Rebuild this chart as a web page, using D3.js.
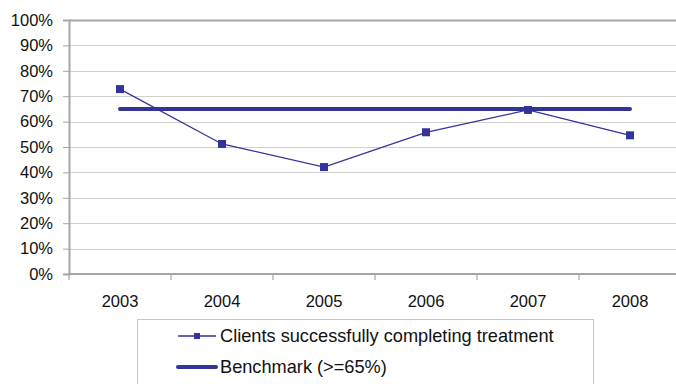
<!DOCTYPE html>
<html>
<head>
<meta charset="utf-8">
<script src="https://cdn.jsdelivr.net/npm/d3@7/dist/d3.min.js"></script>
<style>
  html, body { margin: 0; padding: 0; background: #fff; }
  svg { display: block; font-family: "Liberation Sans", Arial, sans-serif; }
</style>
</head>
<body>
<svg id="chart" width="676" height="384"></svg>
<script>
// Treatment completion rate by year, against the 65% benchmark
const years = ["2003", "2004", "2005", "2006", "2007", "2008"];
const completionRate = [0.728, 0.512, 0.421, 0.558, 0.646, 0.546];
const benchmark = [0.65, 0.65, 0.65, 0.65, 0.65, 0.65];
const yTicks = [0, 0.1, 0.2, 0.3, 0.4, 0.5, 0.6, 0.7, 0.8, 0.9, 1.0];
const seriesNames = ["Clients successfully completing treatment", "Benchmark (>=65%)"];

const navy = "#333399";
const svg = d3.select("#chart");

const x = d3.scaleBand().domain(years).range([69, 681]).padding(0);
const y = d3.scaleLinear().domain([0, 1]).range([274, 20]);
const cx = d => x(d) + x.bandwidth() / 2;

// horizontal gridlines
svg.append("g").selectAll("line")
  .data(yTicks)
  .join("line")
  .attr("x1", 69).attr("x2", 681)
  .attr("y1", d => Math.round(y(d)) + 0.5).attr("y2", d => Math.round(y(d)) + 0.5)
  .attr("stroke", d => d === 1 ? "#a6a6a6" : "#d0d0d0")
  .attr("stroke-width", d => d === 1 ? 2 : 1);

// y axis
const yAxis = svg.append("g")
  .attr("transform", "translate(69,0)")
  .call(d3.axisLeft(y).tickValues(yTicks).tickFormat(d3.format(".0%")).tickSize(6).tickPadding(10));
yAxis.select(".domain").attr("stroke", "#a6a6a6").attr("stroke-width", 2);
yAxis.selectAll(".tick line").attr("stroke", "#a6a6a6");
yAxis.selectAll("text").attr("font-size", 16.5).attr("fill", "#111")
  .attr("font-family", "Liberation Sans, Arial, sans-serif");

// x axis: labels centred in each band, tick marks on band boundaries
const xAxis = svg.append("g")
  .attr("transform", "translate(0,274)")
  .call(d3.axisBottom(x).tickSize(0).tickPadding(21));
xAxis.select(".domain").remove();
xAxis.selectAll("text").attr("font-size", 16.5).attr("fill", "#111")
  .attr("font-family", "Liberation Sans, Arial, sans-serif");
svg.append("line")
  .attr("x1", 68).attr("x2", 681).attr("y1", 274).attr("y2", 274)
  .attr("stroke", "#a6a6a6").attr("stroke-width", 2);
svg.append("g").selectAll("line")
  .data(years.map(d => x(d)))
  .join("line")
  .attr("x1", d => d).attr("x2", d => d)
  .attr("y1", 274).attr("y2", 280)
  .attr("stroke", "#a6a6a6").attr("stroke-width", 1.2);

// benchmark line
svg.append("path")
  .datum(benchmark)
  .attr("fill", "none")
  .attr("stroke", navy)
  .attr("stroke-width", 4)
  .attr("stroke-linecap", "round")
  .attr("d", d3.line().x((d, i) => cx(years[i])).y(d => y(d)));

// completion rate series
svg.append("path")
  .datum(completionRate)
  .attr("fill", "none")
  .attr("stroke", navy)
  .attr("stroke-width", 1.3)
  .attr("d", d3.line().x((d, i) => cx(years[i])).y(d => y(d)));

svg.append("g").selectAll("rect")
  .data(completionRate)
  .join("rect")
  .attr("x", (d, i) => cx(years[i]) - 4)
  .attr("y", d => y(d) - 4)
  .attr("width", 8).attr("height", 8)
  .attr("fill", navy);

// legend
const legend = svg.append("g");
legend.append("rect")
  .attr("x", 137.5).attr("y", 319.5)
  .attr("width", 456).attr("height", 80)
  .attr("fill", "#fff").attr("stroke", "#c8c8c8");

const rows = [336, 367];
legend.append("line")
  .attr("x1", 178).attr("x2", 216).attr("y1", rows[0]).attr("y2", rows[0])
  .attr("stroke", navy).attr("stroke-width", 1.3);
legend.append("rect")
  .attr("x", 194).attr("y", rows[0] - 3).attr("width", 6).attr("height", 6)
  .attr("fill", navy);
legend.append("line")
  .attr("x1", 178).attr("x2", 216).attr("y1", rows[1]).attr("y2", rows[1])
  .attr("stroke", navy).attr("stroke-width", 4).attr("stroke-linecap", "round");

legend.selectAll("text")
  .data(seriesNames)
  .join("text")
  .attr("x", 220)
  .attr("y", (d, i) => rows[i])
  .attr("dy", "0.35em")
  .attr("font-size", 18.2)
  .attr("fill", "#111")
  .text(d => d);
</script>
</body>
</html>
